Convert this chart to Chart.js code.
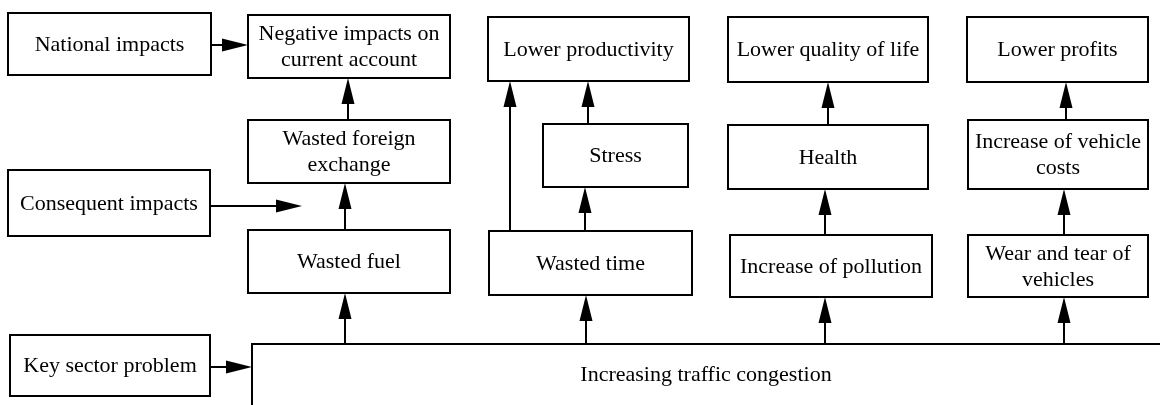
<!DOCTYPE html>
<html>
<head>
<meta charset="utf-8">
<script src="https://cdn.jsdelivr.net/npm/chart.js@4.4.1/dist/chart.umd.min.js"></script>
<style>
  html, body { margin: 0; padding: 0; background: #fff; }
  #wrap { width: 1160px; height: 405px; }
</style>
</head>
<body>
<div id="wrap"><canvas id="flow"></canvas></div>
<script>

// boxes of the diagram (diagram units, y grows downward)
const boxText = [
    'National impacts',
    'Consequent impacts',
    'Key sector problem',
    'Negative impacts on\ncurrent account',
    'Wasted foreign\nexchange',
    'Wasted fuel',
    'Lower productivity',
    'Stress',
    'Wasted time',
    'Lower quality of life',
    'Health',
    'Increase of pollution',
    'Lower profits',
    'Increase of vehicle\ncosts',
    'Wear and tear of\nvehicles',
    'Increasing traffic congestion',
];
const boxLeft   = [8, 8, 10, 248, 248, 248, 488, 543, 489, 728, 728, 730, 967, 968, 968, 252];
const boxTop    = [13, 170, 335, 15, 120, 230, 17, 124, 231, 17, 125, 235, 17, 120, 235, 344];
const boxRight  = [211, 210, 210, 450, 450, 450, 689, 688, 692, 928, 928, 932, 1148, 1148, 1148, 1163];
const boxBottom = [75, 236, 396, 78, 183, 293, 81, 187, 295, 82, 189, 297, 82, 189, 297, 408];

// vertical arrows: x, start y, tip y
const upX    = [345, 345, 348, 586, 585, 588, 510, 825, 825, 828, 1064, 1064, 1066];
const upFrom = [343, 230, 120, 343, 231, 124, 231, 343, 235, 125, 343, 235, 120];
const upTo   = [293, 183, 78, 295, 187, 81, 81, 297, 189, 82, 297, 189, 82];

// horizontal arrows: y, start x, tip x
const rightY    = [45, 206, 367];
const rightFrom = [211, 210, 210];
const rightTo   = [248, 302, 252];

const FONT = '22px "Liberation Serif", "Times New Roman", serif';

function drawArrow(ctx, x1, y1, x2, y2) {
    const len = Math.hypot(x2 - x1, y2 - y1);
    const ux = (x2 - x1) / len, uy = (y2 - y1) / len;
    const head = 26, half = 6.5;
    const bx = x2 - ux * head, by = y2 - uy * head;
    ctx.lineWidth = 2;
    ctx.beginPath();
    ctx.moveTo(x1, y1);
    ctx.lineTo(bx, by);
    ctx.stroke();
    ctx.beginPath();
    ctx.moveTo(x2, y2);
    ctx.lineTo(bx - uy * half, by + ux * half);
    ctx.lineTo(bx + uy * half, by - ux * half);
    ctx.closePath();
    ctx.fill();
}

const flowPlugin = {
    id: 'flow',
    afterDraw(chart) {
        const {ctx, scales: {x, y}} = chart;
        ctx.save();
        ctx.strokeStyle = '#000';
        ctx.fillStyle = '#000';
        ctx.font = FONT;
        ctx.textAlign = 'center';
        ctx.textBaseline = 'middle';

        boxText.forEach((text, i) => {
            const l = x.getPixelForValue(boxLeft[i]);
            const r = x.getPixelForValue(boxRight[i]);
            const t = y.getPixelForValue(boxTop[i]);
            const b = y.getPixelForValue(boxBottom[i]);
            ctx.lineWidth = 2;
            ctx.strokeRect(l, t, r - l, b - t);

            //last box runs off the page, so centre text on the visible part
            const cx = (l + Math.min(r, chart.width)) / 2;
            const cy = (t + Math.min(b, chart.height)) / 2;
            const lines = text.split('\n');
            const lh = 26;
            lines.forEach((line, k) => {
                ctx.fillText(line, cx, cy + (k - (lines.length - 1) / 2) * lh + 1);
            });
        });

        upX.forEach((ax, i) => {
            drawArrow(ctx,
                x.getPixelForValue(ax), y.getPixelForValue(upFrom[i]),
                x.getPixelForValue(ax), y.getPixelForValue(upTo[i]));
        });

        rightY.forEach((ay, i) => {
            drawArrow(ctx,
                x.getPixelForValue(rightFrom[i]), y.getPixelForValue(ay),
                x.getPixelForValue(rightTo[i]), y.getPixelForValue(ay));
        });

        ctx.restore();
    }
};

new Chart(document.getElementById('flow'), {
    type: 'scatter',
    data: {datasets: [{data: [], pointRadius: 0}]},
    options: {
        responsive: true,
        maintainAspectRatio: false,
        animation: false,
        layout: {padding: 0},
        scales: {
            x: {type: 'linear', min: 0, max: 1160, display: false},
            y: {type: 'linear', min: 0, max: 405, reverse: true, display: false},
        },
        plugins: {
            legend: {display: false},
            tooltip: {enabled: false},
        },
    },
    plugins: [flowPlugin],
});

</script>
</body>
</html>
